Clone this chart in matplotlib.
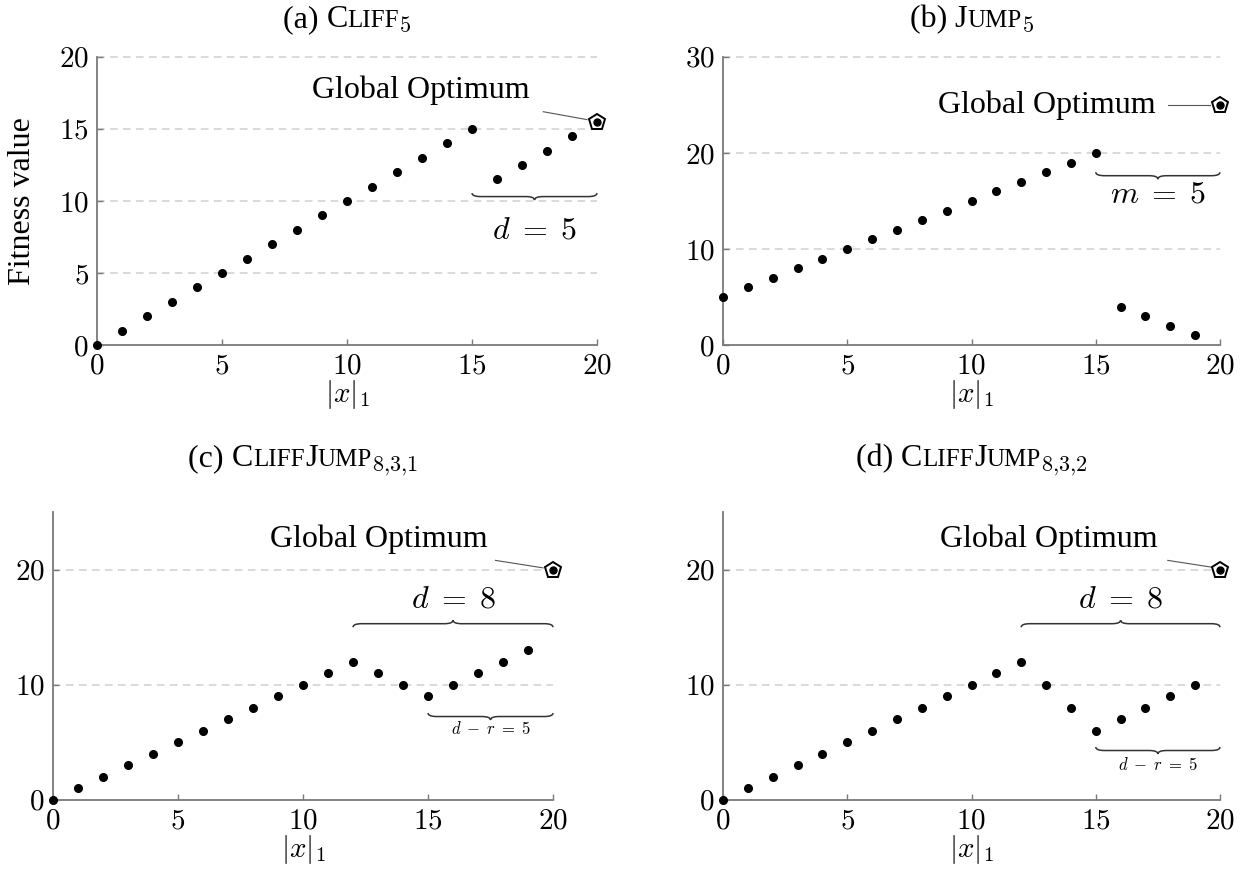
import numpy as np
import matplotlib
matplotlib.use('Agg')
import matplotlib.pyplot as plt
from matplotlib.path import Path
from matplotlib.patches import PathPatch
from matplotlib.ticker import FuncFormatter
from matplotlib.transforms import IdentityTransform

plt.rcParams['mathtext.fontset'] = 'cm'
plt.rcParams['font.family'] = ['Liberation Serif', 'DejaVu Serif']

# data
xs = list(range(20))
cliff_y = [0, 1, 2, 3, 4, 5, 6, 7, 8, 9, 10, 11, 12, 13, 14, 15, 11.5, 12.5, 13.5, 14.5]
jump_y = [5, 6, 7, 8, 9, 10, 11, 12, 13, 14, 15, 16, 17, 18, 19, 20, 4, 3, 2, 1]
cj1_y = [0, 1, 2, 3, 4, 5, 6, 7, 8, 9, 10, 11, 12, 11, 10, 9, 10, 11, 12, 13]
cj2_y = [0, 1, 2, 3, 4, 5, 6, 7, 8, 9, 10, 11, 12, 10, 8, 6, 7, 8, 9, 10]
opt_x = 20
opt_y = [15.5, 25, 20, 20]
yticks = [[0, 5, 10, 15, 20], [0, 10, 20, 30], [0, 10, 20], [0, 10, 20]]
ylims = [20, 30, 25, 25]

W, H = 1250, 890
fig = plt.figure(figsize=(W / 100, H / 100), dpi=100)

pos = [(97, 345, 500, 288), (723, 345, 497, 288),
       (53, 800, 500, 288), (723, 800, 497, 288)]
axes = []
for (l, b, w, h) in pos:
    axes.append(fig.add_axes([l / W, (H - b) / H, w / W, h / H]))

AX_GREY = '#7a7a7a'
FS = 21
TXT = 23


def setup(ax, yt, ytop):
    ax.set_xlim(0, 20)
    ax.set_ylim(0, ytop)
    ax.spines['top'].set_visible(False)
    ax.spines['right'].set_visible(False)
    for s in ['left', 'bottom']:
        ax.spines[s].set_color(AX_GREY)
        ax.spines[s].set_linewidth(1.3)
    ax.set_xticks([0, 5, 10, 15, 20])
    ax.set_yticks(yt)
    fmt = FuncFormatter(lambda v, p: '$%d$' % v)
    ax.xaxis.set_major_formatter(fmt)
    ax.yaxis.set_major_formatter(fmt)
    ax.tick_params(direction='in', length=4, width=1, color=AX_GREY,
                   labelsize=FS, pad=6)
    for v in yt[1:]:
        ax.axhline(v, color='#cfcfcf', lw=1.1, ls=(0, (5, 3.5)), zorder=0,
                   clip_on=False)
    ax.set_xlabel(r'$|x|_1$', fontsize=FS)
    ax.xaxis.set_label_coords(0.5, -0.115)


def brace(ax, x0, x1, y, up, h_px=3.5):
    l, b, w, h = ax.get_position().bounds
    ylo, yhi = ax.get_ylim()
    xlo, xhi = ax.get_xlim()
    dy = h_px * (yhi - ylo) / (h * H)
    dx = 2.5 * h_px * (xhi - xlo) / (w * W)
    s = 1 if up else -1
    xm = (x0 + x1) / 2
    yl = y + s * dy
    verts = [(x0, y), (x0, yl), (x0 + dx, yl), (xm - dx, yl),
             (xm, yl), (xm, y + 2 * s * dy), (xm, yl), (xm + dx, yl),
             (x1 - dx, yl), (x1, yl), (x1, y)]
    codes = [Path.MOVETO, Path.CURVE3, Path.CURVE3, Path.LINETO,
             Path.CURVE3, Path.CURVE3, Path.CURVE3, Path.CURVE3,
             Path.LINETO, Path.CURVE3, Path.CURVE3]
    ax.add_patch(PathPatch(Path(verts, codes), fc='none', ec='#333333',
                           lw=1.1, clip_on=False))


def optimum(ax, x, y, tx, ty, lx0, ly0, lx1, ly1):
    ax.plot([lx0, lx1], [ly0, ly1], color='#555555', lw=0.8, clip_on=False)
    ax.plot([x], [y], marker='p', ms=12, mfc='white', mec='black', mew=1.4,
            ls='none', clip_on=False, zorder=5)
    ax.plot([x], [y], marker='o', ms=5, color='black', ls='none',
            clip_on=False, zorder=6)
    ax.text(tx, ty, 'Global Optimum', fontsize=TXT, ha='right', va='center')


renderer = fig.canvas.get_renderer()


def sc_title(ax, pieces, base_y):
    # pieces: (text, size, dy in px)
    widths = []
    for s, sz, dy in pieces:
        t = fig.text(0, 0, s, fontsize=sz, transform=IdentityTransform())
        widths.append(t.get_window_extent(renderer).width)
        t.remove()
    l, b, w, h = ax.get_position().bounds
    cx = (l + w / 2) * W
    x = cx - sum(widths) / 2
    for (s, sz, dy), wd in zip(pieces, widths):
        fig.text(x, base_y + dy, s, fontsize=sz, va='baseline', ha='left',
                 transform=IdentityTransform())
        x += wd


series = [cliff_y, jump_y, cj1_y, cj2_y]
for i, ax in enumerate(axes):
    setup(ax, yticks[i], ylims[i])
    ax.plot(xs, series[i], 'o', color='black', ms=5.5, clip_on=False, zorder=4)

axes[0].set_ylabel('Fitness value', fontsize=TXT)
axes[0].yaxis.set_label_coords(-0.12, 0.5)

# (a)
optimum(axes[0], opt_x, opt_y[0], 17.3, 17.7, 17.85, 16.2, 19.6, 15.65)
brace(axes[0], 15, 20, 10.55, False)
axes[0].text(17.5, 7.9, r'$d\;=\;5$', fontsize=TXT, ha='center', va='center')

# (b)
optimum(axes[1], opt_x, opt_y[1], 17.4, 25, 17.9, 25, 19.6, 25)
brace(axes[1], 15, 20, 18.0, False)
axes[1].text(17.5, 15.6, r'$m\;=\;5$', fontsize=TXT, ha='center', va='center')

# (c)
optimum(axes[2], opt_x, opt_y[2], 17.4, 22.6, 17.7, 20.8, 19.6, 20.15)
brace(axes[2], 12, 20, 15.0, True)
axes[2].text(16, 17.4, r'$d\;=\;8$', fontsize=TXT, ha='center', va='center')
brace(axes[2], 15, 20, 7.55, False)
axes[2].text(17.5, 6.1, r'$d\;-\;r\;=\;5$', fontsize=12, ha='center', va='center')

# (d)
optimum(axes[3], opt_x, opt_y[3], 17.5, 22.6, 17.9, 20.8, 19.7, 20.2)
brace(axes[3], 12, 20, 15.0, True)
axes[3].text(16, 17.4, r'$d\;=\;8$', fontsize=TXT, ha='center', va='center')
brace(axes[3], 15, 20, 4.6, False)
axes[3].text(17.5, 3.0, r'$d\;-\;r\;=\;5$', fontsize=12, ha='center', va='center')

# titles with small caps
TS, SC, SUB = 23, 18, 16
sc_title(axes[0], [('(a) ', TS, 0), ('C', TS, 0), ('LIFF', SC, 0), ('$5$', SUB, -5)], H - 27)
sc_title(axes[1], [('(b) ', TS, 0), ('J', TS, 0), ('UMP', SC, 0), ('$5$', SUB, -5)], H - 27)
sc_title(axes[2], [('(c) ', TS, 0), ('C', TS, 0), ('LIFF', SC, 0), ('J', TS, 0),
                   ('UMP', SC, 0), ('$8{,}3{,}1$', SUB, -5)], H - 466)
sc_title(axes[3], [('(d) ', TS, 0), ('C', TS, 0), ('LIFF', SC, 0), ('J', TS, 0),
                   ('UMP', SC, 0), ('$8{,}3{,}2$', SUB, -5)], H - 466)

fig.savefig('out.png', dpi=100)
